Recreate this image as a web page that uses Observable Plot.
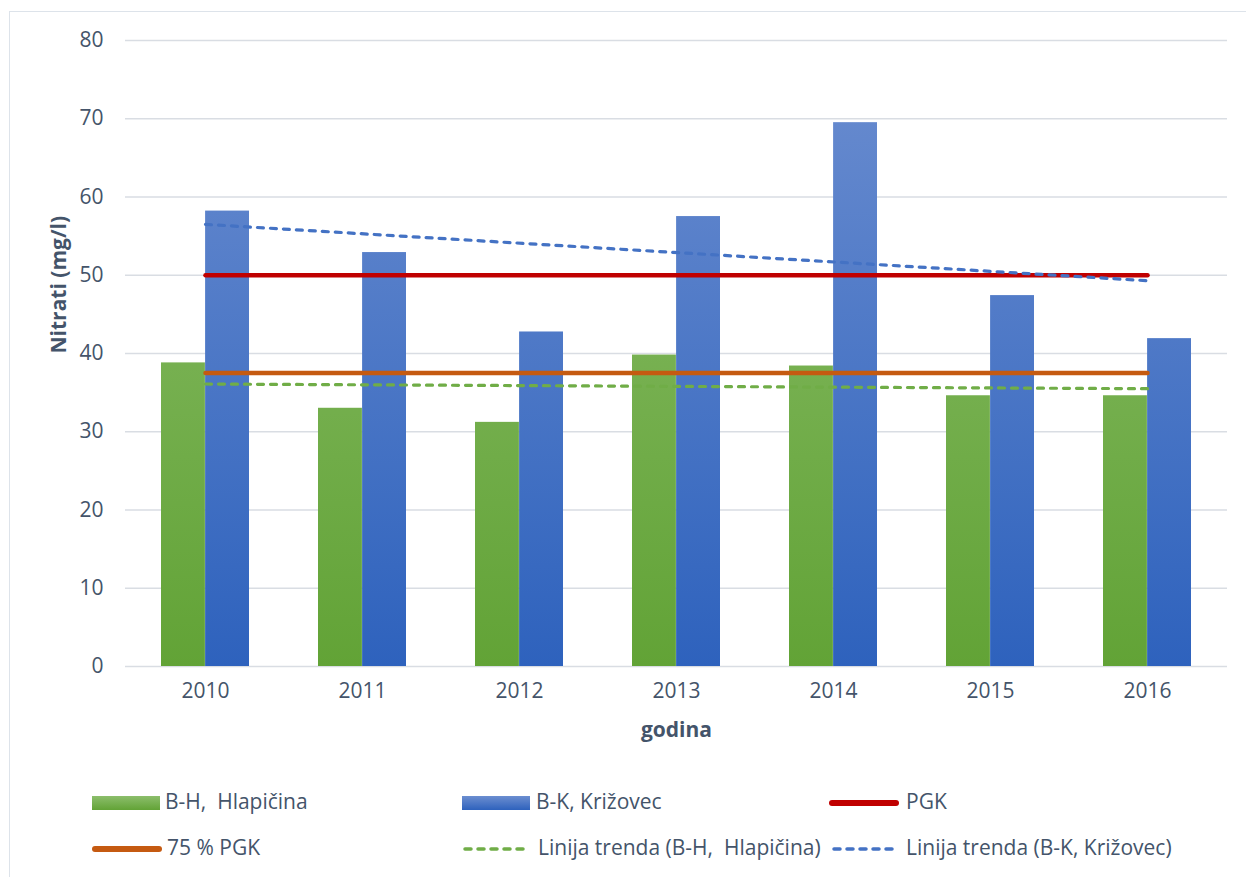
<!DOCTYPE html>
<html><head><meta charset="utf-8">
<script src="https://cdn.jsdelivr.net/npm/d3@7"></script>
<script src="https://cdn.jsdelivr.net/npm/@observablehq/plot@0.6"></script>
<style>
body{margin:0;background:#fff;font-family:"Open Sans",sans-serif;}
#wrap{position:relative;width:1246px;height:877px;overflow:hidden;}
#frame{position:absolute;left:9px;top:11px;width:1260px;height:900px;border:1.5px solid #dde3ea;box-sizing:border-box;}
#chart{position:absolute;left:0;top:0;}
.leg{position:absolute;font-size:21px;color:#44546A;white-space:pre;line-height:1;}
.sw{position:absolute;}
.sw svg{display:block;}
</style></head>
<body><div id="wrap"><div id="frame"></div><div id="chart"></div><div id="legend"></div></div>
<script>
const years = ["2010","2011","2012","2013","2014","2015","2016"];
const hlapicina = [38.8, 33.0, 31.2, 39.8, 38.4, 34.6, 34.6];
const krizovec = [58.2, 52.9, 42.75, 57.5, 69.5, 47.4, 41.9];
const pgk = 50;
const pgk75 = 37.5;
const trendYears = ["2010","2016"];
const trendHlapicina = [36.1, 35.5];
const trendKrizovec = [56.5, 49.3];
const yTicks = [0,10,20,30,40,50,60,70,80];
const seriesNames = ["B-H,  Hlapičina","B-K, Križovec","PGK","75 % PGK","Linija trenda (B-H,  Hlapičina)","Linija trenda (B-K, Križovec)"];

const barsH = years.map((y,i)=>({year:y, v:hlapicina[i]}));
const barsK = years.map((y,i)=>({year:y, v:krizovec[i]}));
const pgkLine = trendYears.map(y=>({year:y, v:pgk}));
const pgk75Line = trendYears.map(y=>({year:y, v:pgk75}));
const trH = trendYears.map((y,i)=>({year:y, v:trendHlapicina[i]}));
const trK = trendYears.map((y,i)=>({year:y, v:trendKrizovec[i]}));

const textColor = "#44546A";
const half = 44.1;

const chart = Plot.plot({
  width: 1246, height: 760,
  marginLeft: 125, marginRight: 19, marginTop: 40, marginBottom: 94,
  style: {fontFamily: '"Open Sans", sans-serif', fontSize: "21px", color: textColor, background: "transparent"},
  x: {type: "band", domain: years, paddingInner: 0.44, paddingOuter: 0.22, label: null},
  y: {domain: [0, 80], label: null},
  marks: [
    Plot.gridY(yTicks, {stroke: "#d9dde3", strokeOpacity: 1, strokeWidth: 1.5}),
    Plot.axisY(yTicks, {tickSize: 0, tickPadding: 22, fill: textColor, fontSize: 21, label: null}),
    Plot.axisX({tickSize: 0, tickPadding: 17, fill: textColor, fontSize: 21, label: null}),
    Plot.barY(barsH, {x: "year", y: "v", fill: "url(#gGreen)", insetRight: half}),
    Plot.barY(barsK, {x: "year", y: "v", fill: "url(#gBlue)", insetLeft: half}),
    Plot.lineY(pgkLine, {x: "year", y: "v", stroke: "#C00000", strokeWidth: 4.5, strokeLinecap: "round"}),
    Plot.lineY(pgk75Line, {x: "year", y: "v", stroke: "#C55A11", strokeWidth: 4.5, strokeLinecap: "round"}),
    Plot.lineY(trH, {x: "year", y: "v", stroke: "#70AD47", strokeWidth: 3.2, strokeDasharray: "6 7", strokeLinecap: "round"}),
    Plot.lineY(trK, {x: "year", y: "v", stroke: "#4472C4", strokeWidth: 3.2, strokeDasharray: "6 7", strokeLinecap: "round"}),
    Plot.text(["godina"], {frameAnchor: "bottom", dy: 70, fontWeight: "bold", fill: textColor, fontSize: 21}),
    Plot.text(["Nitrati (mg/l)"], {frameAnchor: "left", dx: -66, rotate: -90, fontWeight: "bold", fill: textColor, fontSize: 21})
  ]
});

const svg = d3.select(chart);
const defs = svg.insert("defs", ":first-child");
const gG = defs.append("linearGradient").attr("id","gGreen").attr("x1",0).attr("x2",0).attr("gradientUnits","userSpaceOnUse").attr("y1",40).attr("y2",666);
gG.append("stop").attr("offset","0").attr("stop-color","#8CBE6C");
gG.append("stop").attr("offset","1").attr("stop-color","#62A336");
const gB = defs.append("linearGradient").attr("id","gBlue").attr("x1",0).attr("x2",0).attr("gradientUnits","userSpaceOnUse").attr("y1",40).attr("y2",666);
gB.append("stop").attr("offset","0").attr("stop-color","#6C8ED0");
gB.append("stop").attr("offset","1").attr("stop-color","#2E62BD");
document.getElementById("chart").appendChild(chart);

// legend
const legend = document.getElementById("legend");
const items = [
  {x: 92, y: 803, name: seriesNames[0], type: "rect", color: "linear-gradient(#8CBE6C,#62A336)", tx: 165},
  {x: 462, y: 803, name: seriesNames[1], type: "rect", color: "linear-gradient(#6C8ED0,#2E62BD)", tx: 536},
  {x: 829, y: 803, name: seriesNames[2], type: "line", color: "#C00000", tx: 906},
  {x: 92, y: 849, name: seriesNames[3], type: "line", color: "#C55A11", tx: 167},
  {x: 462, y: 849, name: seriesNames[4], type: "dash", color: "#70AD47", tx: 538},
  {x: 831, y: 849, name: seriesNames[5], type: "dash", color: "#4472C4", tx: 906}
];
items.forEach(it => {
  const s = document.createElement("div");
  s.className = "sw";
  if (it.type === "rect") {
    Object.assign(s.style, {left: it.x+"px", top: (it.y-7)+"px", width: "68px", height: "14px", background: it.color});
  } else if (it.type === "line") {
    Object.assign(s.style, {left: it.x+"px", top: (it.y-3)+"px", width: "70px", height: "6px", background: it.color, borderRadius: "3px"});
  } else {
    s.innerHTML = `<svg width="72" height="8"><line x1="3" y1="4" x2="68" y2="4" stroke="${it.color}" stroke-width="3.5" stroke-dasharray="6 7" stroke-linecap="round"/></svg>`;
    Object.assign(s.style, {left: it.x+"px", top: (it.y-4)+"px"});
  }
  legend.appendChild(s);
  const t = document.createElement("div");
  t.className = "leg";
  t.textContent = it.name;
  Object.assign(t.style, {left: it.tx+"px", top: (it.y-12)+"px"});
  legend.appendChild(t);
});
</script></body></html>
